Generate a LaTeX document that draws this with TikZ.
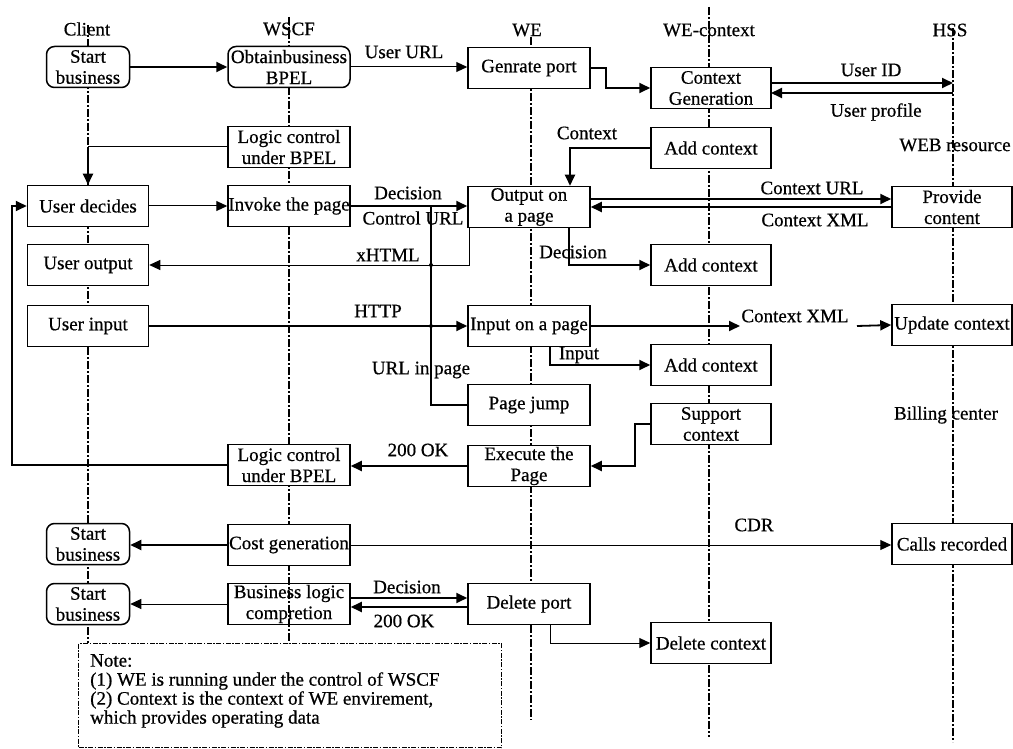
\documentclass[tikz,border=0pt]{standalone}
\usepackage{fontspec}
\setmainfont{Liberation Serif}[FakeBold=0.6]
\usetikzlibrary{arrows.meta}
\begin{document}
\begin{tikzpicture}[x=1pt,y=-1pt,
 txt/.style={font=\fontsize{19}{21}\selectfont},
 box/.style={txt,draw,line width=1.5pt,fill=white,minimum width=122pt,minimum height=41pt,inner sep=0pt,align=center},
 cbox/.style={box,minimum width=120pt},
 rbox/.style={box,rounded corners=8pt,minimum width=83pt},
 lbl/.style={txt,inner sep=0pt},
 life/.style={line width=1.4pt,dash pattern=on 8pt off 2pt on 2pt off 2pt},
 thk/.style={line width=1.8pt,-{Triangle[length=11pt,width=10pt]}},
 thn/.style={line width=1pt,-{Triangle[length=11pt,width=10pt]}},
 plain/.style={line width=1.8pt},
 dot/.style={fill,circle,inner sep=0pt,minimum size=4pt},
]
\useasboundingbox (0,0) rectangle (1013,749);
% lifelines
\draw[life] (88,25) -- (88,643);
\draw[life] (289,17) -- (289,643);
\draw[life] (531,37) -- (531,720);
\draw[life] (709,7) -- (709,737);
\draw[life] (953,28) -- (953,742);
% lifeline labels
\node[lbl] (lClient) at (87,29) {Client};
\node[lbl] (lWSCF) at (289,29) {WSCF};
\node[lbl] (lWE) at (527,30) {WE};
\node[lbl] (lWEc) at (709,30) {WE-context};
\node[lbl] (lHSS) at (950,30) {HSS};
\node[lbl] (lWEB) at (955,145) {WEB resource};
\node[lbl] (lBill) at (946,415) {Billing center};
% Client column
\node[rbox] (sb1) at (88,67) {Start\\business};
\node[box,minimum width=121pt] (ud) at (88,206) {User decides};
\node[box,minimum width=121pt] (uo) at (88,265) {User output};
\node[box,minimum width=121pt] (ui) at (88,326) {User input};
\node[rbox] (sb2) at (88,544) {Start\\business};
\node[rbox] (sb3) at (88,604) {Start\\business};
% WSCF column
\node[box,rounded corners=8pt] (ob) at (289,67) {Obtainbusiness\\BPEL};
\node[box] (lc1) at (289,147) {Logic control\\under BPEL};
\node[box] (ip) at (289,206) {Invoke the page};
\node[box] (lc2) at (289,465) {Logic control\\under BPEL};
\node[box] (cg) at (289,545) {Cost generation};
\node[box,fill=none] (bl) at (289,604) {Business logic\\compretion};
% WE column
\node[box] (gp) at (529,68) {Genrate port};
\node[box] (op) at (529,207) {Output on\\a page};
\node[box] (inp) at (529,326) {Input on a page};
\node[box] (pj) at (529,405) {Page jump};
\node[box] (ex) at (529,466) {Execute the\\Page};
\node[box] (dp) at (529,604) {Delete port};
% WE-context column
\node[cbox] (cgen) at (711,88) {Context\\Generation};
\node[cbox] (ac1) at (711,148) {Add context};
\node[cbox] (ac2) at (711,265) {Add context};
\node[cbox] (ac3) at (711,365) {Add context};
\node[cbox] (sc) at (711,424) {Support\\context};
\node[cbox] (dc) at (711,643) {Delete context};
% HSS column
\node[cbox] (pc) at (952,207) {Provide\\content};
\node[cbox] (uc) at (952,325) {Update context};
\node[cbox] (cr) at (952,544) {Calls recorded};
% helper coordinates
\coordinate (uid1) at (771,83);
\coordinate (uid2) at (953,83);
\coordinate (upr1) at (953,93);
\coordinate (upr2) at (771,93);
\coordinate (jx) at (431,207);
\coordinate (j1) at (431,265);
\coordinate (j2) at (431,326);
\coordinate (cx1) at (740,326);
\coordinate (cx2) at (857,326);
\coordinate (sx) at (635,424);
\coordinate (lx) at (12,465);
% connectors
\draw[thk] (sb1.east) -- (ob.west);
\draw[thn] (ob.east) -- (ob.east -| gp.west);
\draw[thk] (gp.east) -- ++(15,0) |- (cgen.west);
\draw[thk] (uid1) -- (uid2);
\draw[thk] (upr1) -- (upr2);
\draw[line width=1pt] (lc1.west) -- (lc1.west -| ud.north);
\draw[thk] (lc1.west -| ud.north) -- (ud.north);
\draw[thk] (ac1.west) -| ([xshift=41pt]op.north);
\draw[thn] (ud.east) -- (ip.west);
\draw[thk] (ip.east) -- (ip.east -| op.west);
\draw[thk] ([yshift=8pt]op.east) -- ([yshift=8pt]pc.west);
\draw[thk] (pc.west) -- (op.east);
\draw[thn] ([xshift=2pt]op.south west) |- (uo.east);
\draw[thk] ([xshift=40pt]op.south) |- (ac2.west);
\draw[thk] (ui.east) -- (inp.west);
\draw[plain] (pj.west) -| (jx);
\node[dot] at (j1) {};
\node[dot] at (j2) {};
\draw[thk] (inp.east) -- (cx1);
\draw[thk] (cx2) -- (uc.west);
\draw[thk] ([xshift=21pt]inp.south) |- (ac3.west);
\draw[thk] (sc.west) -- (sx) |- (ex.east);
\draw[thk] (ex.west) -- (ex.west -| lc2.east);
\draw[thk] (lc2.west) -- (lx) |- (ud.west);
\draw[thk] (cg.west) -- (cg.west -| sb2.east);
\draw[thn] (cg.east) -- (cg.east -| cr.west);
\draw[thn] (bl.west) -- (sb3.east);
\draw[thk] ([yshift=6pt]bl.east) -- ([yshift=6pt]dp.west);
\draw[thk] ([yshift=-3pt]dp.west) -- ([yshift=-3pt]bl.east);
\draw[thn] ([xshift=21pt]dp.south) |- (dc.west);
% connector labels
\node[lbl] (tUURL) at (404,52) {User URL};
\node[lbl] (tUID) at (871,70) {User ID};
\node[lbl] (tUP) at (876,112) {User profile};
\node[lbl] (tCtx) at (587,133) {Context};
\node[lbl] (tDec1) at (408,193) {Decision};
\node[lbl] (tCURL) at (413,218) {Control URL};
\node[lbl] (tCtxURL) at (812,188) {Context URL};
\node[lbl] (tCtxXML1) at (815,220) {Context XML};
\node[lbl] (txH) at (388,255) {xHTML};
\node[lbl] (tDec2) at (573,252) {Decision};
\node[lbl] (tHTTP) at (378,311) {HTTP};
\node[lbl] (tCtxXML2) at (795,316) {Context XML};
\node[lbl] (tIn) at (579,355) {Input};
\node[lbl] (tURLp) at (421,370) {URL in page};
\node[lbl] (tOK1) at (418,450) {200 OK};
\node[lbl] (tCDR) at (754,525) {CDR};
\node[lbl] (tDec3) at (407,587) {Decision};
\node[lbl] (tOK2) at (404,621) {200 OK};
% note
\node[draw,line width=1.2pt,dash pattern=on 5pt off 1.5pt on 1.5pt off 1.5pt,minimum width=423pt,minimum height=104pt,anchor=north west,inner sep=0pt] (note) at (78,643) {};
\node[lbl,font=\fontsize{19}{19}\selectfont,align=left,anchor=north west] (notetext) at (90,654) {Note:\\(1) WE is running under the control of WSCF\\(2) Context is the context of WE envirement,\\which provides operating data};
\end{tikzpicture}
\end{document}
